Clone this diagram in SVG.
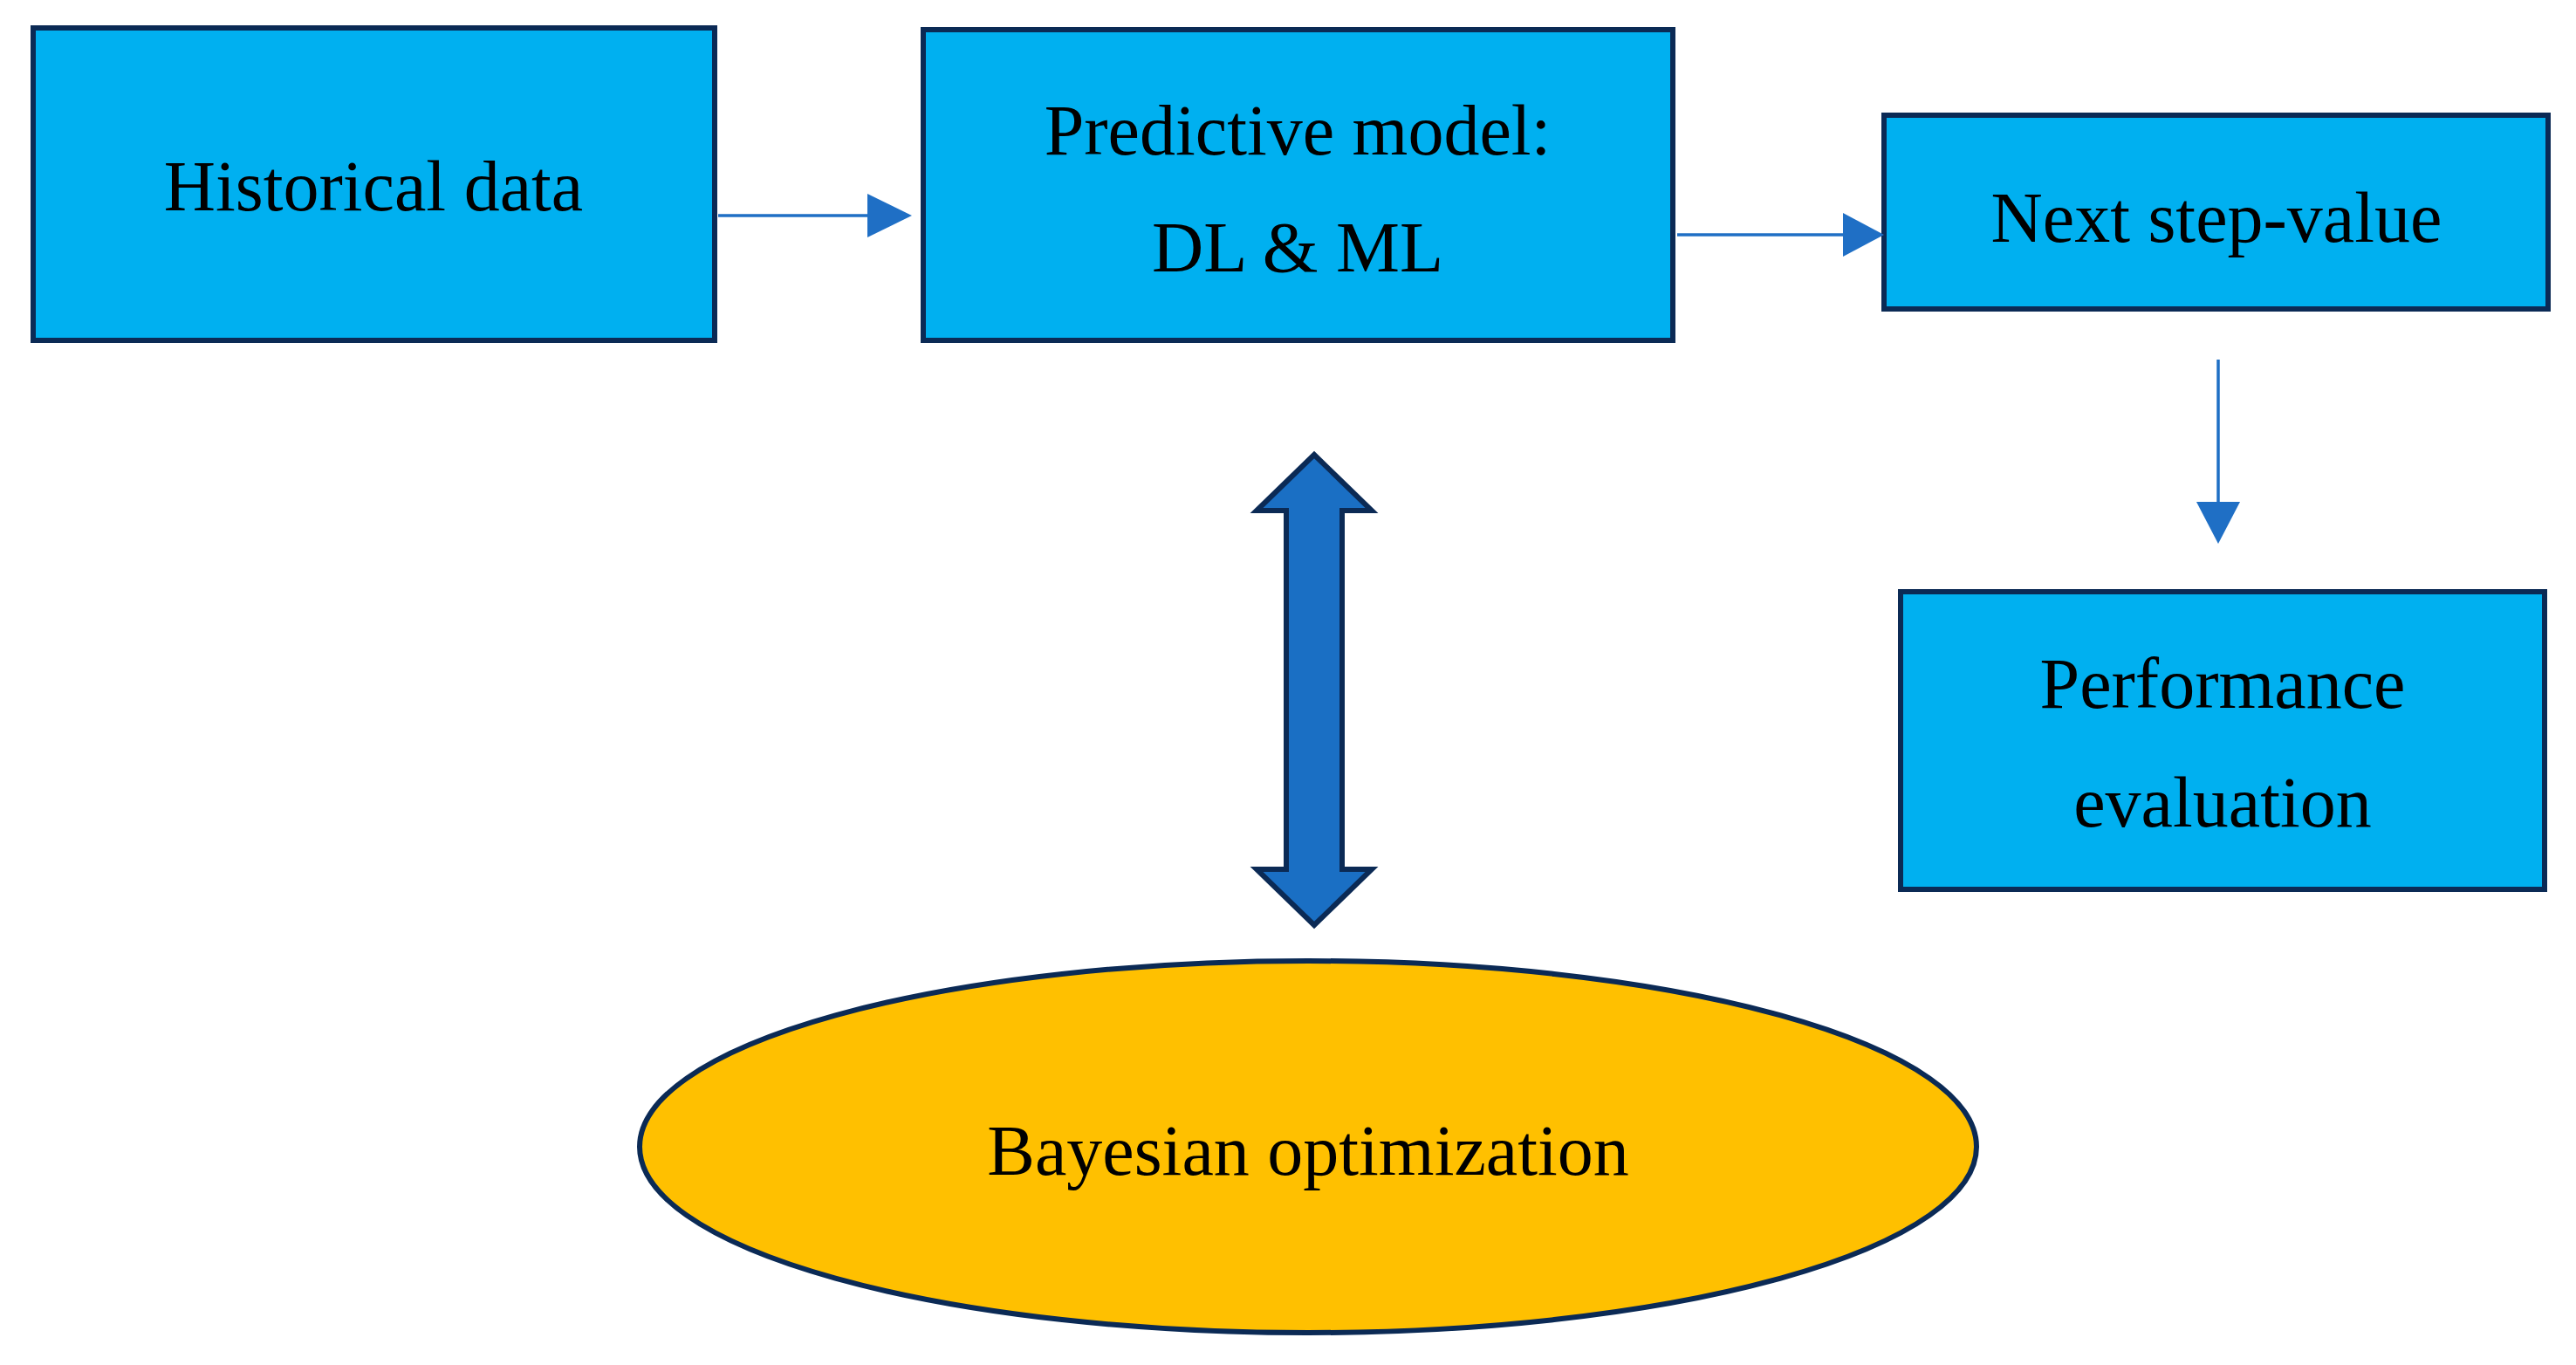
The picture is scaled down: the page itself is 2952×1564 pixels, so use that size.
<svg xmlns="http://www.w3.org/2000/svg" width="2952" height="1564" viewBox="0 0 2952 1564">
<style>
.box{fill:#00B0F0;stroke:#0B2A55;stroke-width:6}
.t{font-family:"Liberation Serif",serif;font-size:82px;fill:#000;text-anchor:middle}
.c{stroke:#1F6FC5;stroke-width:3.5;fill:none}
.h{fill:#1F6FC5}
</style>
<rect width="2952" height="1564" fill="#fff"/>
<g id="historical"><rect class="box" x="38" y="32" width="781" height="358"/><text class="t" x="428" y="241">Historical data</text></g>
<g id="predictive"><rect class="box" x="1058" y="34" width="859" height="356"/><text class="t" x="1487" y="177">Predictive model:</text><text class="t" x="1487" y="311">DL &amp; ML</text></g>
<g id="next"><rect class="box" x="2159" y="132" width="761" height="222"/><text class="t" x="2540" y="277">Next step-value</text></g>
<g id="performance"><rect class="box" x="2178" y="678" width="738" height="341"/><text class="t" x="2547" y="811">Performance</text><text class="t" x="2547" y="947">evaluation</text></g>
<g id="bayesian"><ellipse cx="1499" cy="1314" rx="766" ry="213" fill="#FFC000" stroke="#0B2A55" stroke-width="6"/><text class="t" x="1499" y="1346">Bayesian optimization</text></g>
<g id="connectors">
<line class="c" x1="823" y1="247" x2="996" y2="247"/><polygon class="h" points="994,222 1045,247 994,272"/>
<line class="c" x1="1922" y1="269" x2="2114" y2="269"/><polygon class="h" points="2112,244 2159,269 2112,294"/>
<line class="c" x1="2542" y1="412" x2="2542" y2="577"/><polygon class="h" points="2517,575 2542,623 2567,575"/>
<polygon fill="#1A6FC4" stroke="#0B2A55" stroke-width="6" stroke-linejoin="miter" points="1506,521 1572,585 1538,585 1538,996 1572,996 1506,1060 1440,996 1474,996 1474,585 1440,585"/>
</g>
</svg>
